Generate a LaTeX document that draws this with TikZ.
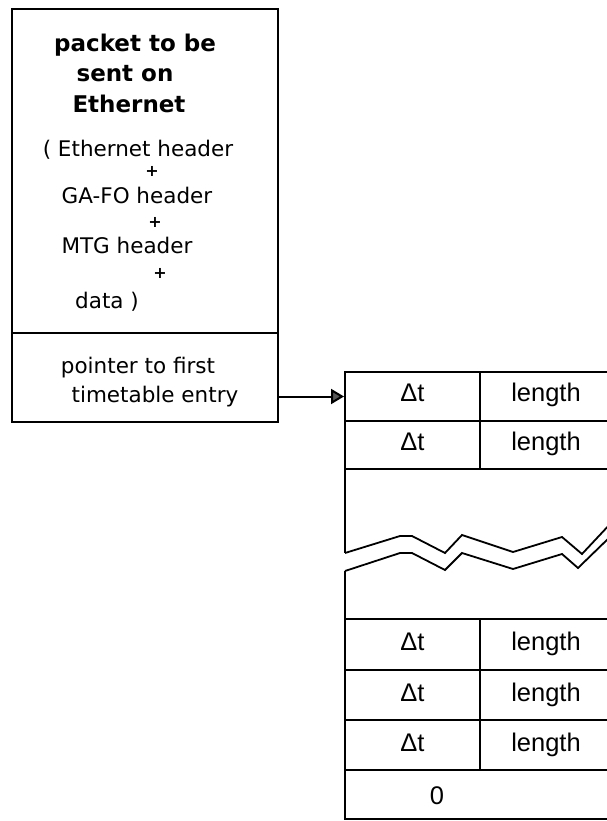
\documentclass[tikz,border=0pt]{standalone}
\usepackage{fontspec}
\setmainfont{DejaVu Sans}
\newfontfamily\tabfont{Liberation Sans}
\usetikzlibrary{arrows.meta}
\tikzset{
  frame/.style={draw=black, line width=2pt, inner sep=0pt},
  boxtxt/.style={anchor=base, inner sep=0pt, font=\fontsize{21.5}{24}\selectfont},
  titletxt/.style={anchor=base, inner sep=0pt, font=\fontsize{23}{26}\selectfont\bfseries},
  plustxt/.style={inner sep=0pt, font=\fontsize{16}{18}\selectfont\bfseries},
  celltxt/.style={anchor=base, inner sep=0pt, font=\tabfont\fontsize{25.5}{28}\selectfont},
  dtcell/.style={frame, minimum width=135pt},
  lencell/.style={frame, minimum width=132pt},
  wire/.style={line width=2pt},
  zig/.style={line width=1.8pt, line join=miter}
}
\begin{document}
\begin{tikzpicture}[x=1pt,y=-1pt]
\useasboundingbox (0,0) rectangle (606,821);
% left box
\node[frame, minimum width=266pt, minimum height=324pt] (pkt) at (145,171) {};
\node[frame, minimum width=266pt, minimum height=89pt] (ptr) at (145,377.5) {};
\node[titletxt] (t1) at (135,52) {packet to be};
\node[titletxt] (t2) at (125,82) {sent on};
\node[titletxt] (t3) at (129,113) {Ethernet};
\node[boxtxt] (l1) at (138,157) {( Ethernet header};
\node[plustxt] (p1) at (152,171) {+};
\node[boxtxt] (l2) at (137,203) {GA-FO header};
\node[plustxt] (p2) at (155,222) {+};
\node[boxtxt] (l3) at (127,253) {MTG header};
\node[plustxt] (p3) at (160,273) {+};
\node[boxtxt] (l4) at (107,308) {data )};
\node[boxtxt] (q1) at (138,373) {pointer to first};
\node[boxtxt] (q2) at (155,402) {timetable entry};
% upper table rows
\node[dtcell, minimum height=49pt] (a1) at (412.5,396.5) {};
\node[lencell, minimum height=49pt] (b1) at (546,396.5) {};
\node[dtcell, minimum height=48pt] (a2) at (412.5,445) {};
\node[lencell, minimum height=48pt] (b2) at (546,445) {};
\node[celltxt] at ([yshift=-5pt]a1.center) {Δt};
\node[celltxt] at ([yshift=-5pt]b1.center) {length};
\node[celltxt] at ([yshift=-5pt]a2.center) {Δt};
\node[celltxt] at ([yshift=-5pt]b2.center) {length};
% arrow
\draw[wire, -{Triangle[length=13pt,width=15pt,fill=black!65]}] (ptr.east |- a1.west) -- (a1.west);
% break section
\coordinate (ul) at (345,469);
\coordinate (ll) at (345,619);
\draw[wire] (ul) -- (345,553);
\draw[zig] (345,553) -- (400,536) -- (412,536) -- (445,553) -- (462,535) -- (513,552) -- (562,537) -- (582,554) -- (612,522);
\draw[zig] (345,571) -- (400,553) -- (412,553) -- (445,570) -- (462,553) -- (513,569) -- (562,554) -- (578,568) -- (612,535);
\draw[wire] (345,571) -- (ll);
% lower table rows
\node[dtcell, minimum height=51pt] (a3) at (412.5,644.5) {};
\node[lencell, minimum height=51pt] (b3) at (546,644.5) {};
\node[dtcell, minimum height=50pt] (a4) at (412.5,695) {};
\node[lencell, minimum height=50pt] (b4) at (546,695) {};
\node[dtcell, minimum height=50pt] (a5) at (412.5,745) {};
\node[lencell, minimum height=50pt] (b5) at (546,745) {};
\node[frame, minimum width=267pt, minimum height=49pt] (z) at (478.5,794.5) {};
\node[celltxt] at ([yshift=-6pt]a3.center) {Δt};
\node[celltxt] at ([yshift=-6pt]b3.center) {length};
\node[celltxt] at ([yshift=-6pt]a4.center) {Δt};
\node[celltxt] at ([yshift=-6pt]b4.center) {length};
\node[celltxt] at ([yshift=-6pt]a5.center) {Δt};
\node[celltxt] at ([yshift=-6pt]b5.center) {length};
\node[celltxt] (zero) at (437,804) {0};
\end{tikzpicture}
\end{document}
